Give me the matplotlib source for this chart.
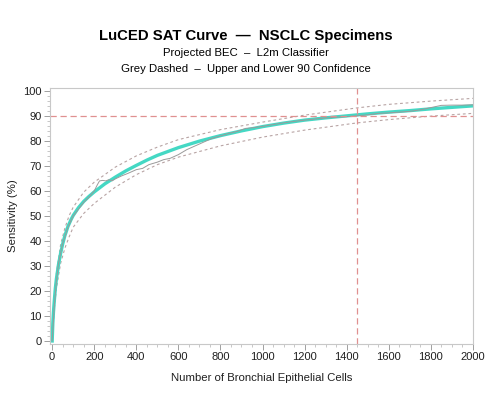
import matplotlib
matplotlib.use("Agg")
import matplotlib.pyplot as plt
from matplotlib.ticker import MultipleLocator

plt.rcParams['font.family'] = ['Liberation Sans', 'DejaVu Sans']

# Fitted SAT curve
fit_x = [0, 3, 6, 10, 15, 20, 30, 40, 50, 60, 75, 90, 100, 125, 150, 175, 200, 250, 300,
         350, 400, 450, 500, 600, 700, 800, 900, 1000, 1100, 1200, 1300, 1400, 1500, 1600,
         1700, 1800, 1900, 2000]
fit_y = [0, 7, 11.5, 16, 21, 24.8, 30.5, 35, 38.8, 42, 45.8, 48.6, 50.2, 53.3, 55.8, 57.8,
         59.6, 62.8, 65.5, 68, 70.2, 72.3, 74.2, 77.3, 79.9, 82.1, 84, 85.7, 87.1, 88.3,
         89.2, 90, 90.8, 91.5, 92.1, 92.8, 93.4, 94]

# Observed (empirical) curve
obs_x = [0, 10, 20, 30, 40, 50, 75, 100, 150, 180, 200, 215, 225, 240, 255, 270, 285,
         300, 330, 360, 400, 430, 460, 500, 530, 560, 600, 640, 680, 720, 760, 800, 840,
         880, 920, 960, 1000, 1050, 1100, 1150, 1200, 1300, 1400, 1500, 1550, 1600, 1700,
         1750, 1800, 1850, 1900, 1950, 2000]
obs_y = [0, 14, 24, 31, 35, 39, 45.5, 50, 55.5, 58, 60, 62.5, 64, 64.2, 64, 64.5, 64,
         64.8, 66, 67, 68.5, 69, 70.5, 71.5, 72.5, 73, 74.5, 76.5, 78, 79.5, 81, 82, 83,
         83.8, 85, 85.3, 85.8, 86.5, 87.2, 87.8, 88.3, 89.2, 89.7, 90.4, 91, 91.2, 91.8,
         92.4, 93.3, 94.2, 94.3, 94.3, 94.4]

# Confidence limits
ci_x = [0, 10, 20, 40, 60, 80, 100, 150, 200, 300, 400, 500, 600, 800, 1000, 1200, 1450,
        1600, 1800, 2000]
ci_upper = [0, 17, 27, 38.5, 45, 50, 53.5, 59.5, 63.5, 69.5, 74, 77.5, 80.5, 84.5, 87.5,
            90.3, 93.2, 94.6, 95.9, 97]
ci_lower = [0, 13, 21, 31, 37, 41.5, 45.5, 51, 55, 61.5, 66.5, 70.5, 73.5, 78, 81.5, 84.3,
            87.2, 88.5, 89.9, 91]

target_sens = 90
target_cells = 1450

x_ticks = list(range(0, 2001, 200))
y_ticks = list(range(0, 101, 10))

fig = plt.figure(figsize=(4.91, 3.94), dpi=100)
ax = fig.add_axes([0.102, 0.127, 0.861, 0.650])

ax.plot(ci_x, ci_upper, color='#b8a4a4', lw=0.8, ls=(0, (2.5, 2.5)))
ax.plot(ci_x, ci_lower, color='#b8a4a4', lw=0.8, ls=(0, (2.5, 2.5)))
ax.plot(fit_x, fit_y, color='#44D8C4', lw=2.4, solid_joinstyle='round')
ax.plot(obs_x, obs_y, color='#9a9a9a', lw=0.7)
ax.axhline(target_sens, color='#e09090', lw=0.9, ls=(0, (5, 3)))
ax.axvline(target_cells, color='#e09090', lw=0.9, ls=(0, (5, 3)))

ax.set_xlim(-10, 2000)
ax.set_ylim(-1.2, 101.2)
ax.set_xticks(x_ticks)
ax.set_yticks(y_ticks)
ax.xaxis.set_minor_locator(MultipleLocator(50))
ax.yaxis.set_minor_locator(MultipleLocator(2))
ax.tick_params(which='major', length=4, width=0.7, color='#a0a0a0', labelsize=8,
               labelcolor='#202020', pad=2)
ax.tick_params(which='minor', length=2, width=0.5, color='#b0b0b0')
for s in ax.spines.values():
    s.set_color('#c8c8c8')
    s.set_linewidth(0.8)

ax.set_xlabel('Number of Bronchial Epithelial Cells', fontsize=8.2, color='#202020', labelpad=8)
ax.set_ylabel('Sensitivity (%)', fontsize=8.2, color='#202020', labelpad=4)

fig.text(0.5, 1 - 36 / 394, 'LuCED SAT Curve  \u2014  NSCLC Specimens', ha='center',
         va='center', fontsize=10.7, fontweight='bold')
fig.text(0.5, 1 - 53 / 394, 'Projected BEC  \u2013  L2m Classifier', ha='center',
         va='center', fontsize=8.2)
fig.text(0.5, 1 - 69 / 394, 'Grey Dashed  \u2013  Upper and Lower 90 Confidence',
         ha='center', va='center', fontsize=8.2)

fig.savefig('out.png', dpi=100)
